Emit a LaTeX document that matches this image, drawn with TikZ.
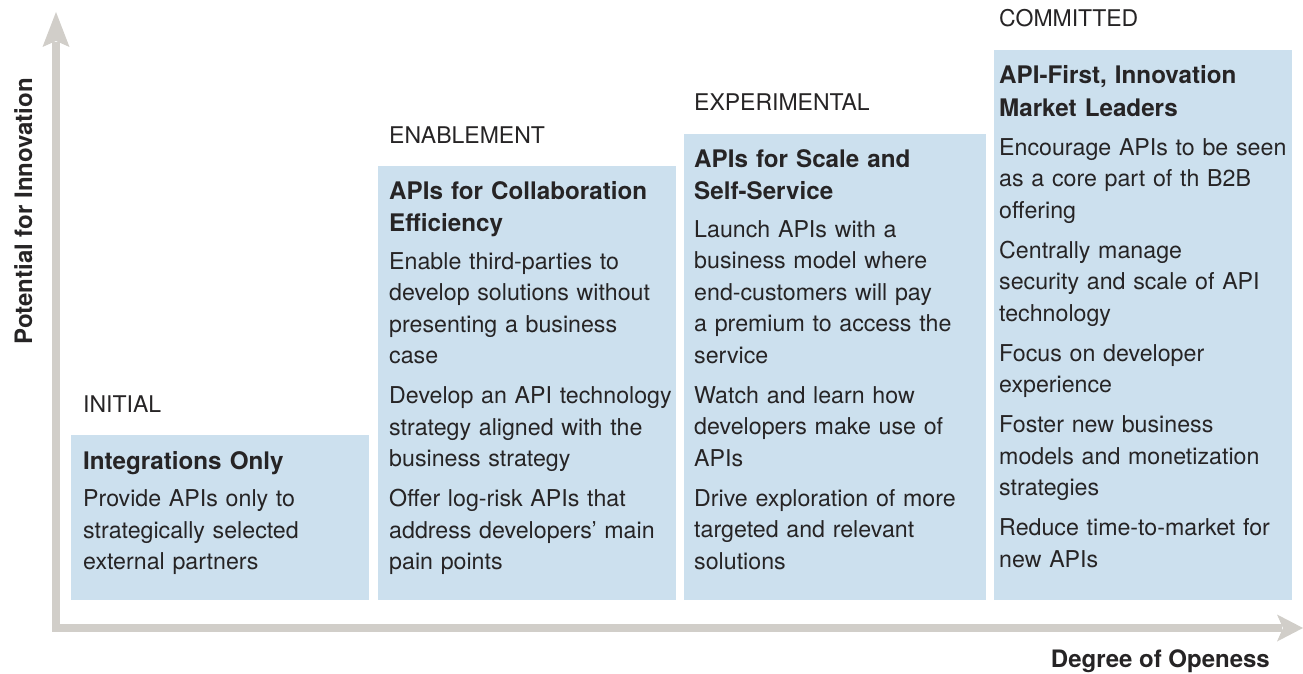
\documentclass[tikz,border=0pt]{standalone}
\usepackage{fontspec}
\setmainfont{TeX Gyre Heros}
\definecolor{boxfill}{HTML}{CCE0EE}
\definecolor{axisgray}{HTML}{D1CEC9}
\definecolor{txt}{HTML}{262425}
\begin{document}
\begin{tikzpicture}[x=1pt,y=-1pt,
  stagebox/.style={fill=boxfill, draw=none, anchor=north west, inner sep=0pt, minimum width=298pt},
  stagelabel/.style={font=\fontsize{23}{27}\selectfont, text=txt, anchor=base west, inner sep=0pt},
  titletext/.style={font=\bfseries\fontsize{24.2}{32.5}\selectfont, text=txt, anchor=base west, inner sep=0pt, text width=296pt, align=left},
  bodytext/.style={font=\fontsize{23.2}{31.5}\selectfont, text=txt, anchor=base west, inner sep=0pt, text width=296pt, align=left},
  axislabel/.style={font=\bfseries\fontsize{24}{28}\selectfont, text=txt, inner sep=0pt},
  axisfill/.style={fill=axisgray, draw=none}]
\useasboundingbox (0,0) rectangle (1303,674);
% axes
\coordinate (origin) at (56,628);
\fill[axisfill] (52,42) rectangle (60,632);
\fill[axisfill] (52,624) rectangle (1282,632);
\fill[axisfill] (56,12) -- (69.5,47) -- (56,41) -- (42.5,47) -- cycle;
\fill[axisfill] (1303,628) -- (1277,614.5) -- (1283,628) -- (1277,641.5) -- cycle;
\node[axislabel, rotate=90, anchor=base east] (ylab) at (32,78) {Potential for Innovation};
\node[axislabel, anchor=base east] (xlab) at (1270,667) {Degree of Openess};
% boxes
\node[stagebox, minimum height=165pt] (b1) at (71,435) {};
\node[stagebox, minimum height=434pt] (b2) at (378,166) {};
\node[stagebox, minimum width=302pt, minimum height=466pt] (b3) at (684,134) {};
\node[stagebox, minimum height=550pt] (b4) at (994,50) {};
% stage labels
\node[stagelabel] (l1) at (83,412) {INITIAL};
\node[stagelabel] (l2) at (389,143) {ENABLEMENT};
\node[stagelabel] (l3) at (694,111) {EXPERIMENTAL};
\node[stagelabel] (l4) at (999,27) {COMMITTED};
% titles
\node[titletext] (t1) at (83,469) {Integrations Only};
\node[titletext] (t2) at (389,199) {APIs for Collaboration\\Efficiency};
\node[titletext] (t3) at (694,167) {APIs for Scale and\\Self-Service};
\node[titletext] (t4) at (999,84) {API-First, Innovation\\Market Leaders};
% bodies
\node[bodytext] (c1) at (83,506.5) {Provide APIs only to\\strategically selected\\external partners};
\node[bodytext] (c2) at (389,269) {Enable third-parties to\\develop solutions without\\presenting a business\\case\\[8.5pt]Develop an API technology\\strategy aligned with the\\business strategy\\[8.5pt]Offer log-risk APIs that\\address developers’ main\\pain points};
\node[bodytext] (c3) at (694,237) {Launch APIs with a\\business model where\\end-customers will pay\\a premium to access the\\service\\[8.5pt]Watch and learn how\\developers make use of\\APIs\\[8.5pt]Drive exploration of more\\targeted and relevant\\solutions};
\node[bodytext] (c4) at (999,155) {Encourage APIs to be seen\\as a core part of th B2B\\offering\\[8.5pt]Centrally manage\\security and scale of API\\technology\\[8.5pt]Focus on developer\\experience\\[8.5pt]Foster new business\\models and monetization\\strategies\\[8.5pt]Reduce time-to-market for\\new APIs};
\end{tikzpicture}
\end{document}
